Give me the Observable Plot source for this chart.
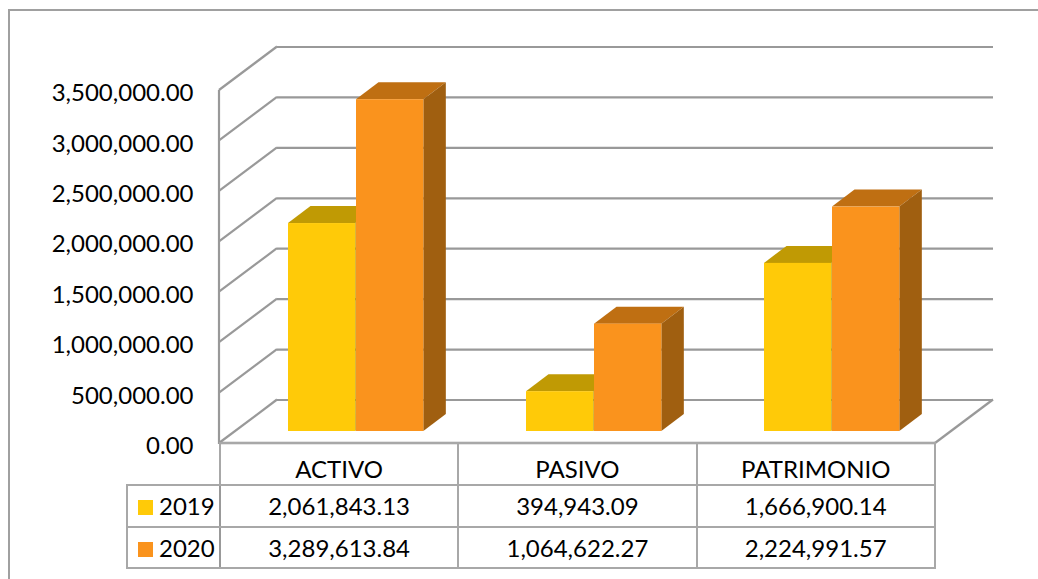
<!DOCTYPE html>
<html>
<head>
<meta charset="utf-8">
<script src="https://cdn.jsdelivr.net/npm/d3@7"></script>
<script src="https://cdn.jsdelivr.net/npm/@observablehq/plot@0.6"></script>
<style>
  html, body { margin: 0; padding: 0; background: #fff; }
  #page { position: relative; width: 1038px; height: 579px; overflow: hidden; font-family: Lato, sans-serif; color: #000; }
  #frame { position: absolute; left: 8px; top: 9px; width: 1100px; height: 700px; border: 2px solid #a0a0a0; box-sizing: border-box; }
  #chart { position: absolute; left: 0; top: 0; }
  table { position: absolute; left: 126px; top: 442px; border-collapse: collapse; table-layout: fixed; font-size: 24px; line-height: 1; }
  td { border: 2px solid #a8a8a8; text-align: center; padding: 0; height: 42px; box-sizing: border-box; white-space: nowrap; }
  tr:last-child td { height: 41px; }
  td.head { vertical-align: bottom; padding-bottom: 3px; height: 42px; }
  td.corner { border-top: none; border-left: none; }
  td.key { border-right-color: #999; text-align: left; padding-left: 10px; }
  .sw { display: inline-block; width: 15px; height: 15px; margin-right: 6px; vertical-align: 0px; }
</style>
</head>
<body>
<div id="page">
  <div id="frame"></div>
  <div id="chart"></div>
</div>
<script>
const categories = ["ACTIVO", "PASIVO", "PATRIMONIO"];
const years = ["2019", "2020"];
const values2019 = [2061843.13, 394943.09, 1666900.14];
const values2020 = [3289613.84, 1064622.27, 2224991.57];
const yTicks = [0, 500000, 1000000, 1500000, 2000000, 2500000, 3000000, 3500000];

const colors2019 = {front: "#FFCA08", top: "#C09A04", side: "#A88604"};
const colors2020 = {front: "#FA931D", top: "#BF6F12", side: "#A05F10"};

const rows2019 = categories.map((c, i) => ({category: c, value: values2019[i]}));
const rows2020 = categories.map((c, i) => ({category: c, value: values2020[i]}));

// pseudo-3D projection offsets
const wallDx = 58, wallDy = -43.5;     // depth of the floor / walls
const barDx = 15, barDy = -12;         // bar front plane inside the floor
const depthDx = 22.5, depthDy = -17;   // depth of each bar
const gridColor = "#999999";
const gridWidth = 2.2;

const bandW = (935 - 219) / 3;
const inset2019 = {left: 53, right: bandW - 53 - 68};
const inset2020 = {left: 121, right: bandW - 121 - 68};

function poly(g, pts, fill) {
  g.append("polygon").attr("points", pts.map(p => p.join(",")).join(" ")).attr("fill", fill);
}
function line(g, x1, y1, x2, y2, w) {
  g.append("line").attr("x1", x1).attr("y1", y1).attr("x2", x2).attr("y2", y2)
    .attr("stroke", gridColor).attr("stroke-width", w || gridWidth);
}

// left wall, floor outline
function walls(index, {x, y}) {
  const g = d3.select(document.createElementNS("http://www.w3.org/2000/svg", "g"));
  const x0 = x.range()[0], x1 = x.range()[1];
  for (const t of yTicks) line(g, x0, y(t), x0 + wallDx, y(t) + wallDy);
  line(g, x1, y(0), x1 + wallDx, y(0) + wallDy);
  line(g, x0, y(yTicks[yTicks.length - 1]), x0, y(0) + 1);
  line(g, x0, y(0), x1, y(0), 2.5);
  return g.node();
}

// top and side faces of the bars
function faces(rows, inset, col) {
  return (index, {x, y}) => {
    const g = d3.select(document.createElementNS("http://www.w3.org/2000/svg", "g"));
    for (const r of rows) {
      const l = x(r.category) + inset.left + barDx;
      const rr = x(r.category) + x.bandwidth() - inset.right + barDx;
      const t = y(r.value) + barDy, b = y(0) + barDy;
      poly(g, [[l, t], [rr, t], [rr + depthDx, t + depthDy], [l + depthDx, t + depthDy]], col.top);
      poly(g, [[rr, t], [rr + depthDx, t + depthDy], [rr + depthDx, b + depthDy], [rr, b]], col.side);
    }
    return g.node();
  };
}

const plot = Plot.plot({
  width: 1038,
  height: 579,
  marginLeft: 219,
  marginRight: 103,
  marginTop: 90,
  marginBottom: 136,
  style: {background: "transparent", fontFamily: "Lato, sans-serif", fontSize: "24px", color: "#000"},
  x: {type: "band", domain: categories, padding: 0, axis: null},
  y: {domain: [0, 3500000], axis: null},
  marks: [
    Plot.ruleY(yTicks, {dx: wallDx, dy: wallDy, stroke: gridColor, strokeWidth: gridWidth}),
    walls,
    faces(rows2019, inset2019, colors2019),
    faces(rows2020, inset2020, colors2020),
    Plot.barY(rows2019, {x: "category", y: "value", fill: colors2019.front, dx: barDx, dy: barDy, insetLeft: inset2019.left, insetRight: inset2019.right}),
    Plot.barY(rows2020, {x: "category", y: "value", fill: colors2020.front, dx: barDx, dy: barDy, insetLeft: inset2020.left, insetRight: inset2020.right}),
    Plot.axisY(yTicks, {anchor: "left", tickSize: 0, tickPadding: 26, dy: 3, tickFormat: d3.format(",.2f"), label: null, fill: "#000"})
  ]
});
document.getElementById("chart").append(plot);

// data table + legend below the plot area
const fmt = d3.format(",.2f");
const table = d3.select("#page").append("table");
const cg = table.append("colgroup");
cg.append("col").style("width", "93px");
categories.forEach(() => cg.append("col").style("width", (bandW - 0.4) + "px"));
const head = table.append("tr");
head.append("td").attr("class", "head corner");
categories.forEach(c => head.append("td").attr("class", "head").text(c));
[[years[0], values2019, colors2019], [years[1], values2020, colors2020]].forEach(([yr, vals, col]) => {
  const tr = table.append("tr");
  const k = tr.append("td").attr("class", "key");
  k.append("span").attr("class", "sw").style("background", col.front);
  k.append("span").text(yr);
  vals.forEach(v => tr.append("td").text(fmt(v)));
});
</script>
</body>
</html>
